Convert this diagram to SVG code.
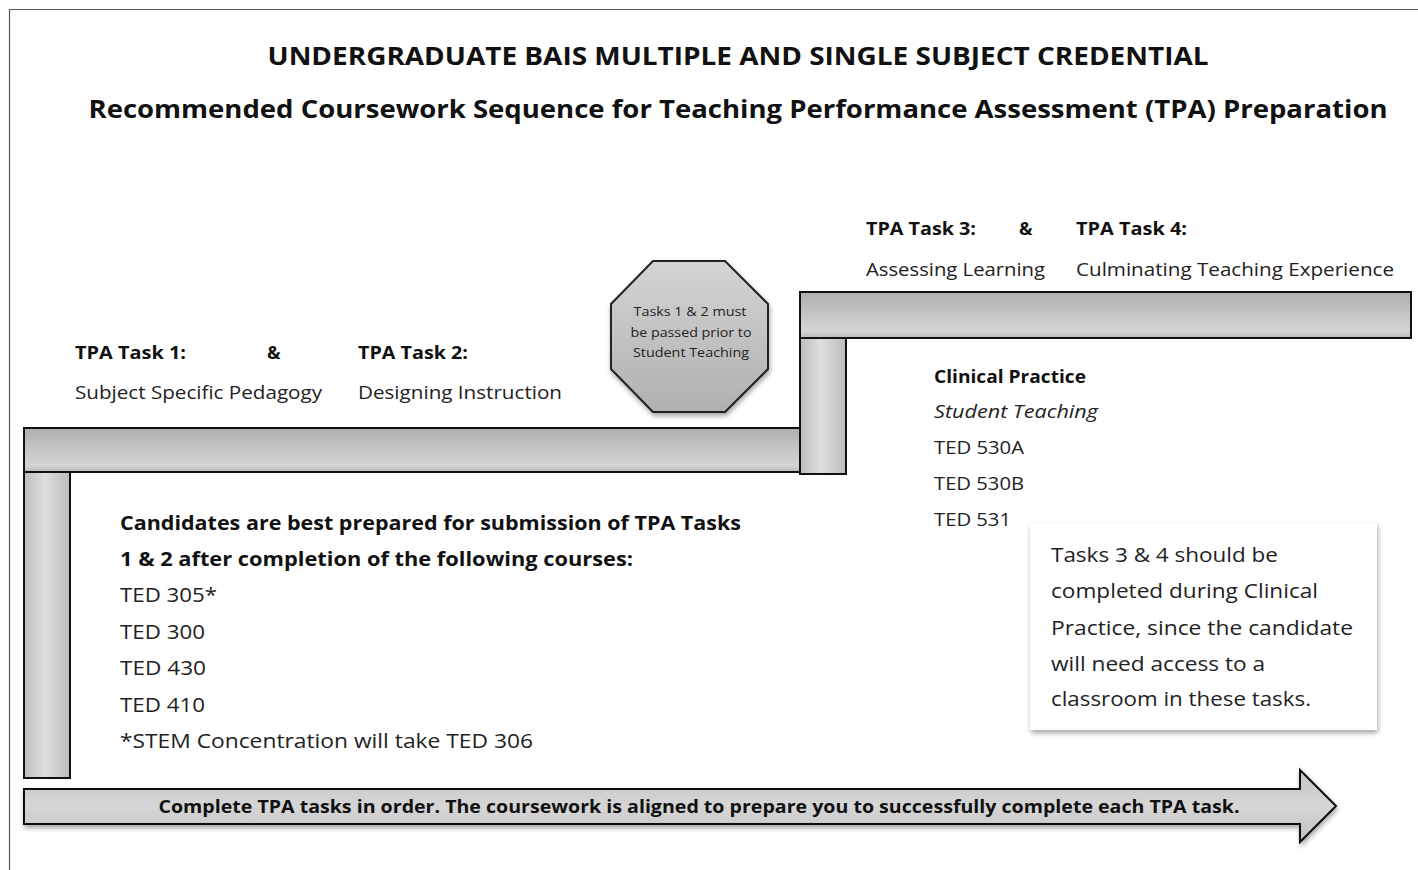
<svg xmlns="http://www.w3.org/2000/svg" width="1418" height="870" viewBox="0 0 1418 870">
<defs>
<linearGradient id="hbar" x1="0" y1="0" x2="0" y2="1">
<stop offset="0" stop-color="#aeaeae"/><stop offset="0.5" stop-color="#c6c6c6"/><stop offset="0.85" stop-color="#d4d4d4"/><stop offset="1" stop-color="#bababa"/>
</linearGradient>
<linearGradient id="vbar" x1="0" y1="0" x2="1" y2="0">
<stop offset="0" stop-color="#bdbdbd"/><stop offset="0.45" stop-color="#dedede"/><stop offset="1" stop-color="#bcbcbc"/>
</linearGradient>
<linearGradient id="oct" x1="0" y1="0" x2="0" y2="1">
<stop offset="0" stop-color="#d4d4d4"/><stop offset="1" stop-color="#b0b0b0"/>
</linearGradient>
<linearGradient id="arr" x1="0" y1="0" x2="0" y2="1">
<stop offset="0" stop-color="#c4c4c4"/><stop offset="0.5" stop-color="#d6d6d6"/><stop offset="1" stop-color="#c0c0c0"/>
</linearGradient>
<filter id="sh" x="-5%" y="-10%" width="110%" height="130%">
<feDropShadow dx="1" dy="3" stdDeviation="2.5" flood-color="#000" flood-opacity="0.35"/>
</filter>
</defs>
<style>
text{font-family:"Open Sans","Noto Sans","Liberation Sans",sans-serif;fill:#111}
.t{font-weight:bold;font-size:25px}
.h{font-weight:bold;font-size:18px}
.n{font-size:18px;fill:#222}
.b{font-size:19.5px;fill:#222}
.bb{font-size:19.5px;font-weight:bold}
.o{font-size:12.5px;fill:#222}
.bar{stroke:#111;stroke-width:2}
</style>
<rect width="1418" height="870" fill="#ffffff"/>
<path d="M9.5,870 V9.5 H1418" fill="none" stroke="#555" stroke-width="1.2"/>

<g id="title">
<text class="t" x="738" y="65" text-anchor="middle" textLength="941" lengthAdjust="spacingAndGlyphs">UNDERGRADUATE BAIS MULTIPLE AND SINGLE SUBJECT CREDENTIAL</text>
<text class="t" x="738" y="118" text-anchor="middle" textLength="1299" lengthAdjust="spacingAndGlyphs">Recommended Coursework Sequence for Teaching Performance Assessment (TPA) Preparation</text>
</g>

<g id="steps">
<rect class="bar" x="24" y="472" width="46" height="306" fill="url(#vbar)"/>
<rect class="bar" x="24" y="428" width="776" height="44" fill="url(#hbar)"/>
<rect class="bar" x="800" y="338" width="46" height="136" fill="url(#vbar)"/>
<rect class="bar" x="800" y="292" width="611" height="46" fill="url(#hbar)"/>
</g>

<g id="task12">
<text class="h" x="75" y="359" textLength="111" lengthAdjust="spacingAndGlyphs">TPA Task 1:</text>
<text class="h" x="267" y="359">&amp;</text>
<text class="h" x="358" y="359" textLength="110" lengthAdjust="spacingAndGlyphs">TPA Task 2:</text>
<text class="n" x="75" y="399" textLength="247" lengthAdjust="spacingAndGlyphs">Subject Specific Pedagogy</text>
<text class="n" x="358" y="399" textLength="204" lengthAdjust="spacingAndGlyphs">Designing Instruction</text>
</g>

<g id="task34">
<text class="h" x="866" y="235" textLength="110" lengthAdjust="spacingAndGlyphs">TPA Task 3:</text>
<text class="h" x="1019" y="235">&amp;</text>
<text class="h" x="1076" y="235" textLength="111" lengthAdjust="spacingAndGlyphs">TPA Task 4:</text>
<text class="n" x="866" y="276" textLength="179" lengthAdjust="spacingAndGlyphs">Assessing Learning</text>
<text class="n" x="1076" y="276" textLength="318" lengthAdjust="spacingAndGlyphs">Culminating Teaching Experience</text>
</g>

<g id="octagon">
<polygon points="653,261 725,261 768,304 768,369 725,412 653,412 611,369 611,304" fill="url(#oct)" stroke="#222" stroke-width="2" filter="url(#sh)"/>
<text class="o" x="690" y="316" text-anchor="middle" textLength="113" lengthAdjust="spacingAndGlyphs">Tasks 1 &amp; 2 must</text>
<text class="o" x="691" y="337" text-anchor="middle" textLength="121" lengthAdjust="spacingAndGlyphs">be passed prior to</text>
<text class="o" x="691" y="357" text-anchor="middle" textLength="116" lengthAdjust="spacingAndGlyphs">Student Teaching</text>
</g>

<g id="clinical">
<text class="h" x="934" y="383" textLength="152" lengthAdjust="spacingAndGlyphs">Clinical Practice</text>
<text class="n" x="934" y="418" font-style="italic" textLength="164" lengthAdjust="spacingAndGlyphs">Student Teaching</text>
<text class="n" x="934" y="454" textLength="90" lengthAdjust="spacingAndGlyphs">TED 530A</text>
<text class="n" x="934" y="490" textLength="90" lengthAdjust="spacingAndGlyphs">TED 530B</text>
<text class="n" x="934" y="526" textLength="77" lengthAdjust="spacingAndGlyphs">TED 531</text>
</g>

<g id="courses">
<text class="bb" x="120" y="530" textLength="621" lengthAdjust="spacingAndGlyphs">Candidates are best prepared for submission of TPA Tasks</text>
<text class="bb" x="120" y="566" textLength="513" lengthAdjust="spacingAndGlyphs">1 &amp; 2 after completion of the following courses:</text>
<text class="b" x="120" y="602" textLength="97" lengthAdjust="spacingAndGlyphs">TED 305*</text>
<text class="b" x="120" y="639" textLength="85" lengthAdjust="spacingAndGlyphs">TED 300</text>
<text class="b" x="120" y="675" textLength="86" lengthAdjust="spacingAndGlyphs">TED 430</text>
<text class="b" x="120" y="712" textLength="85" lengthAdjust="spacingAndGlyphs">TED 410</text>
<text class="b" x="120" y="748" textLength="413" lengthAdjust="spacingAndGlyphs">*STEM Concentration will take TED 306</text>
</g>

<g id="note">
<rect x="1030" y="523" width="347" height="207" fill="#ffffff" filter="url(#sh)"/>
<text class="b" x="1051" y="562" textLength="227" lengthAdjust="spacingAndGlyphs">Tasks 3 &amp; 4 should be</text>
<text class="b" x="1051" y="598" textLength="267" lengthAdjust="spacingAndGlyphs">completed during Clinical</text>
<text class="b" x="1051" y="635" textLength="302" lengthAdjust="spacingAndGlyphs">Practice, since the candidate</text>
<text class="b" x="1051" y="671" textLength="214" lengthAdjust="spacingAndGlyphs">will need access to a</text>
<text class="b" x="1051" y="706" textLength="260" lengthAdjust="spacingAndGlyphs">classroom in these tasks.</text>
</g>

<g id="arrow">
<polygon points="24,789 1300,789 1300,770 1336,806 1300,842 1300,824 24,824" fill="url(#arr)" stroke="#111" stroke-width="2" stroke-linejoin="miter" filter="url(#sh)"/>
<text class="h" x="699" y="813" text-anchor="middle" textLength="1081" lengthAdjust="spacingAndGlyphs">Complete TPA tasks in order. The coursework is aligned to prepare you to successfully complete each TPA task.</text>
</g>
</svg>
